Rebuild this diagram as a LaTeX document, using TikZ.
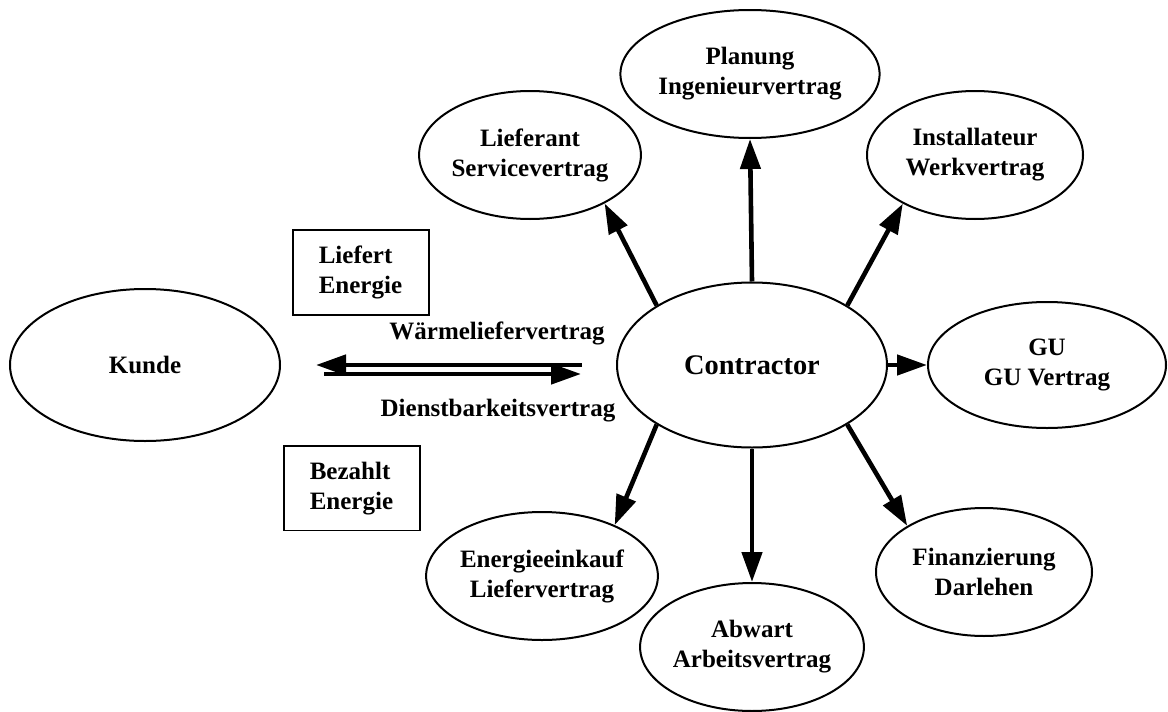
\documentclass[tikz,border=0pt]{standalone}
\usepackage{fontspec}
\setmainfont{Liberation Serif}
\usetikzlibrary{arrows.meta,positioning,shapes.geometric}
\newcommand{\lab}{\fontsize{12.5}{15}\selectfont\bfseries}
\newcommand{\biglab}{\fontsize{14.2}{17}\selectfont\bfseries}

\begin{document}
\begin{tikzpicture}[x=0.5pt,y=-0.5pt,
  ell/.style={ellipse,draw,line width=1pt,inner sep=0pt,align=center,font=\lab,
    minimum width=108pt,minimum height=64pt},
  box/.style={draw,line width=0.8pt,align=left,font=\lab,anchor=north west,
    text width=42pt,inner xsep=13pt,inner ysep=8pt},
  lbl/.style={font=\lab,inner sep=1pt},
  arr/.style={-{Triangle[length=15pt,width=10pt]},line width=2.3pt}]
  \useasboundingbox (0,0) rectangle (1168,712);
  % Vertragspartner
  \node[ell,minimum width=135pt,minimum height=76pt] (kunde) at (145,365) {Kunde};
  \node[ell,font=\biglab,minimum width=135pt,minimum height=82.5pt] (con) at (752,365) {Contractor};
  \node[ell] (plan) at (750,74) {Planung\\Ingenieurvertrag};
  \node[ell] (lief) at (530,155) {Lieferant\\Servicevertrag};
  \node[ell] (inst) at (975,155) {Installateur\\Werkvertrag};
  \node[ell,minimum width=119pt,minimum height=63pt] (gu) at (1047,365) {GU\\GU Vertrag};
  \node[ell] (fin) at (984,572) {Finanzierung\\Darlehen};
  \node[ell] (abw) at (752,647) {Abwart\\Arbeitsvertrag};
  \node[ell] (ein) at (542,576) {Energieeinkauf\\Liefervertrag};
  % Kaesten und Beschriftungen
  \node[box] (liefert) at (292,229) {Liefert\\Energie};
  \node[box] (bezahlt) at (283,445) {Bezahlt\\Energie};
  \node[lbl] (waerme) at (497,333) {Wärmeliefervertrag};
  \node[lbl] (dienst) at (498,411) {Dienstbarkeitsvertrag};
  % Pfeile
  \draw[arr,shorten <=17pt,shorten >=17.5pt] (con.west) -- (kunde.east);
  \draw[arr,shorten <=21.5pt,shorten >=17.5pt] ([yshift=-4.5pt]kunde.east) -- ([yshift=-4.5pt]con.west);
  \draw[arr] (con.north) -- (plan.south);
  \draw[arr] (con.148) -- (lief.-33);
  \draw[arr] (con.32) -- (inst.-146);
  \draw[arr] (con.east) -- (gu.west);
  \draw[arr] (con.-32) -- (fin.149);
  \draw[arr] (con.south) -- (abw.north);
  \draw[arr] (con.-148) -- (ein.35);
\end{tikzpicture}
\end{document}
